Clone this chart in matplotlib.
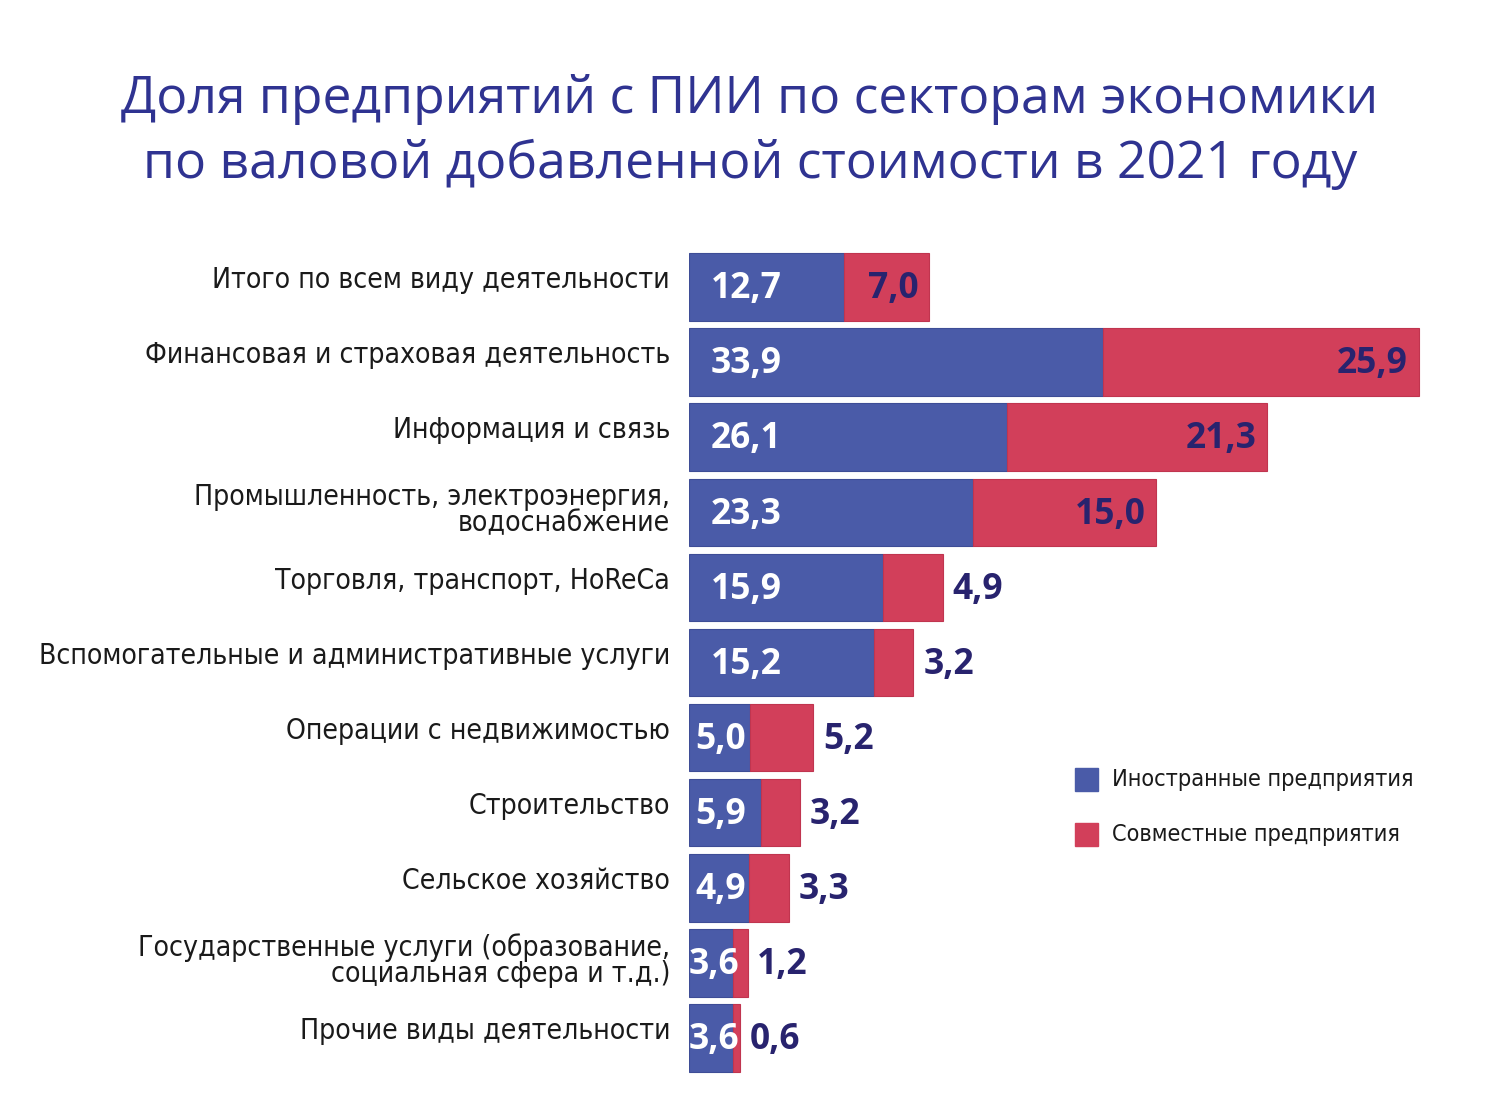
import matplotlib.pyplot as plt
from matplotlib.patches import Rectangle

categories = [
    "Итого по всем виду деятельности",
    "Финансовая и страховая деятельность",
    "Информация и связь",
    "Промышленность, электроэнергия,\nводоснабжение",
    "Торговля, транспорт, HoReCa",
    "Вспомогательные и административные услуги",
    "Операции с недвижимостью",
    "Строительство",
    "Сельское хозяйство",
    "Государственные услуги (образование,\nсоциальная сфера и т.д.)",
    "Прочие виды деятельности",
]
foreign = [12.7, 33.9, 26.1, 23.3, 15.9, 15.2, 5.0, 5.9, 4.9, 3.6, 3.6]
joint = [7.0, 25.9, 21.3, 15.0, 4.9, 3.2, 5.2, 3.2, 3.3, 1.2, 0.6]
legend_labels = ["Иностранные предприятия", "Совместные предприятия"]
title = "Доля предприятий с ПИИ по секторам экономики\nпо валовой добавленной стоимости в 2021 году"

blue = "#4a5ba8"
red = "#d23f5a"
navy = "#28236e"
title_col = "#2f3391"

W, H = 1500, 1095
fig = plt.figure(figsize=(W / 100, H / 100), dpi=100)

# axes placed in pixel terms: bars start at x=689, rows span y=249..1076
left, right = 689, 1500
top, bottom = 249.5, 1075.5
ax = fig.add_axes([left / W, 1 - bottom / H, (right - left) / W, (bottom - top) / H])
ax.set_xlim(0, (right - left) / 12.2)
ax.set_ylim(len(categories) - 0.5, -0.5)
ax.axis("off")

y = list(range(len(categories)))
ax.barh(y, foreign, height=0.9, color=blue, edgecolor="#3e4d96", linewidth=0.8)
ax.barh(y, joint, left=foreign, height=0.9, color=red, edgecolor="#c0354f", linewidth=0.8)

lab_font = ["DejaVu Sans"]
val_font = ["Open Sans", "DejaVu Sans"]

for i, (f, j) in enumerate(zip(foreign, joint)):
    dy = -0.03 if "\n" in categories[i] else -0.09
    ax.text(-1.55, i + dy, categories[i], ha="right", va="center", fontsize=20.3,
            family=lab_font, fontstretch="condensed", color="#1a1a1a", linespacing=0.95)
    if f >= 10:
        pad = 1.8
    elif f >= 4.5:
        pad = 0.55
    else:
        pad = 0.0
    ax.text(pad, i + 0.03, f"{f:.1f}".replace(".", ","), ha="left", va="center",
            fontsize=25.5, fontweight="bold", family=val_font, color="white")
    s = f"{j:.1f}".replace(".", ",")
    if j >= 6:
        ax.text(f + j - 0.9, i + 0.03, s, ha="right", va="center", fontsize=25.5,
                fontweight="bold", family=val_font, color=navy)
    else:
        ax.text(f + j + 0.8, i + 0.03, s, ha="left", va="center", fontsize=25.5,
                fontweight="bold", family=val_font, color=navy)

# legend
for k, (lab, col) in enumerate(zip(legend_labels, [blue, red])):
    yy = 768 + k * 55
    fig.patches.append(Rectangle((1075 / W, 1 - (yy + 23) / H), 23 / W, 23 / H,
                                 transform=fig.transFigure, color=col))
    fig.text(1112 / W, 1 - (yy + 11.5) / H, lab, ha="left", va="center",
             fontsize=16.8, family=lab_font, fontstretch="condensed", color="#1a1a1a")

fig.text(0.5, 1 - 132 / H, title, ha="center", va="center", fontsize=37.2,
         family=["Open Sans", "DejaVu Sans"], color=title_col, linespacing=1.35)

fig.savefig("out.png", dpi=100)
